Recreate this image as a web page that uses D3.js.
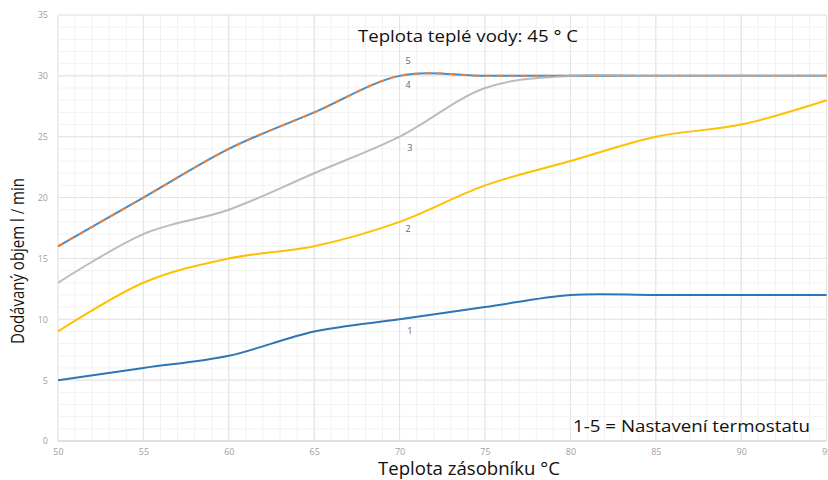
<!DOCTYPE html>
<html><head><meta charset="utf-8">
<script src="https://cdn.jsdelivr.net/npm/d3@7"></script>
<style>body{margin:0;background:#fff}svg{display:block}</style>
</head><body>
<svg id="c" width="828" height="480"></svg>
<script>
const temps = [50, 55, 60, 65, 70, 75, 80, 85, 90, 95];
const setting1 = [5, 6, 7, 9, 10, 11, 12, 12, 12, 12];
const setting2 = [9, 13, 15, 16, 18, 21, 23, 25, 26, 28];
const setting3 = [13, 17, 19, 22, 25, 29, 30, 30, 30, 30];
const setting4 = [16, 20, 24, 27, 30, 30, 30, 30, 30, 30];
const setting5 = [16, 20, 24, 27, 30, 30, 30, 30, 30, 30];
const xTicks = [50, 55, 60, 65, 70, 75, 80, 85, 90, 95];
const yTicks = [0, 5, 10, 15, 20, 25, 30, 35];
const lineLabels = [
  {name: "5", x: 70.5, y: 31.0},
  {name: "4", x: 70.5, y: 29.0},
  {name: "3", x: 70.6, y: 23.8},
  {name: "2", x: 70.5, y: 17.2},
  {name: "1", x: 70.6, y: 8.8}
];
const titleText = "Teplota teplé vody: 45 ° C";
const xTitle = "Teplota zásobníku °C";
const yTitle = "Dodávaný objem l / min";
const noteText = "1-5 = Nastavení termostatu";

const svg = d3.select("#c");
const x = d3.scaleLinear().domain([50, 95]).range([58, 826.6]);
const y = d3.scaleLinear().domain([0, 35]).range([441, 15]);

const g = svg.append("g");
const minorX = d3.range(50, 96, 1), minorY = d3.range(0, 36, 1);
g.selectAll(".mx").data(minorX).join("line")
  .attr("x1", d => x(d)).attr("x2", d => x(d)).attr("y1", y(0)).attr("y2", y(35))
  .attr("stroke", "#f2f2f2").attr("stroke-width", 1);
g.selectAll(".my").data(minorY).join("line")
  .attr("x1", x(50)).attr("x2", x(95)).attr("y1", d => y(d)).attr("y2", d => y(d))
  .attr("stroke", "#f2f2f2").attr("stroke-width", 1);
g.selectAll(".Mx").data(xTicks).join("line")
  .attr("x1", d => x(d)).attr("x2", d => x(d)).attr("y1", y(0)).attr("y2", y(35))
  .attr("stroke", "#e3e3e3").attr("stroke-width", 1);
g.selectAll(".My").data(yTicks).join("line")
  .attr("x1", x(50)).attr("x2", x(95)).attr("y1", d => y(d)).attr("y2", d => y(d))
  .attr("stroke", "#e3e3e3").attr("stroke-width", 1);
g.append("line").attr("x1", x(50)).attr("x2", x(95)).attr("y1", y(0)).attr("y2", y(0))
  .attr("stroke", "#d4d4d4").attr("stroke-width", 1.2);

const xAxis = d3.axisBottom(x).tickValues(xTicks).tickSize(0).tickPadding(8);
const xa = svg.append("g").attr("transform", `translate(0,${y(0)})`).call(xAxis);
xa.select(".domain").remove();
xa.selectAll("text").attr("fill", "#a0a0a0").attr("font-size", 9).attr("font-family", "Open Sans, sans-serif");
const yAxis = d3.axisLeft(y).tickValues(yTicks).tickSize(0).tickPadding(10);
const ya = svg.append("g").attr("transform", `translate(${x(50)},0)`).call(yAxis);
ya.select(".domain").remove();
ya.selectAll("text").attr("fill", "#a0a0a0").attr("font-size", 9).attr("font-family", "Open Sans, sans-serif");

const line = d3.line().x((d, i) => x(temps[i])).y(d => y(d)).curve(d3.curveCardinal.tension(0));
const lg = svg.append("g").attr("fill", "none").attr("stroke-linecap", "butt");
lg.append("path").datum(setting1).attr("d", line).attr("stroke", "#2e75b6").attr("stroke-width", 2);
lg.append("path").datum(setting2).attr("d", line).attr("stroke", "#ffc000").attr("stroke-width", 2);
lg.append("path").datum(setting4).attr("d", line).attr("stroke", "#3a8fd4").attr("stroke-width", 2);
lg.append("path").datum(setting5).attr("d", line).attr("stroke", "#f4802f").attr("stroke-width", 2).attr("stroke-dasharray", "6,6");
lg.append("path").datum(setting3).attr("d", line).attr("stroke", "#b0b0b0").attr("stroke-width", 2).attr("stroke-opacity", 0.85);

svg.selectAll(".ll").data(lineLabels).join("text")
  .attr("x", d => x(d.x)).attr("y", d => y(d.y)).attr("text-anchor", "middle")
  .attr("font-family", "Open Sans, sans-serif").attr("font-size", 9).attr("fill", "#666")
  .text(d => d.name);

svg.append("text").attr("x", 358).attr("y", 42).attr("font-family", "Open Sans, sans-serif")
  .attr("font-size", 17).attr("fill", "#111").attr("textLength", 220).attr("lengthAdjust", "spacingAndGlyphs").text(titleText);
svg.append("text").attr("x", 573).attr("y", 432).attr("font-family", "Open Sans, sans-serif")
  .attr("font-size", 17).attr("fill", "#111").attr("textLength", 237).attr("lengthAdjust", "spacingAndGlyphs").text(noteText);
svg.append("text").attr("x", 378).attr("y", 475).attr("font-family", "Open Sans, sans-serif")
  .attr("font-size", 18).attr("fill", "#111").attr("textLength", 182).attr("lengthAdjust", "spacingAndGlyphs").text(xTitle);
svg.append("text").attr("transform", "translate(24,344) rotate(-90)").attr("font-family", "Open Sans, sans-serif")
  .attr("font-size", 19).attr("fill", "#111").attr("textLength", 166).attr("lengthAdjust", "spacingAndGlyphs").text(yTitle);
</script>
</body></html>
